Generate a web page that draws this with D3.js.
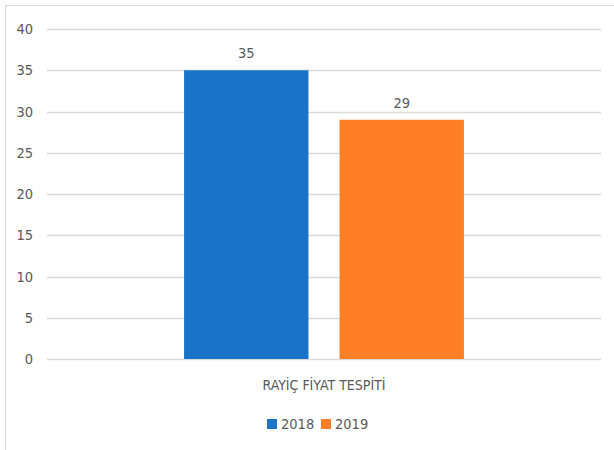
<!DOCTYPE html>
<html>
<head>
<meta charset="utf-8">
<script src="https://cdn.jsdelivr.net/npm/d3@7"></script>
<style>
  body { margin: 0; background: #fff; }
  text { font-family: "DejaVu Sans Condensed", "DejaVu Sans", sans-serif; font-stretch: condensed; fill: #595959; }
</style>
</head>
<body>
<div id="chart"></div>
<script>
const categories = ["RAYİÇ FİYAT TESPİTİ"];
const seriesNames = ["2018", "2019"];
const seriesValues = [35, 29];
const yTicks = [0, 5, 10, 15, 20, 25, 30, 35, 40];
const colors = ["#1873c9", "#fe7f26"];

const W = 614, H = 450;
const margin = { top: 29, right: 13, bottom: 91, left: 47 },
      width = W - margin.left - margin.right,
      height = H - margin.top - margin.bottom;

const root = d3.select("#chart")
  .append("svg")
    .attr("width", W)
    .attr("height", H);

// chart frame
root.append("rect")
  .attr("x", 5.5).attr("y", 5.5)
  .attr("width", W + 10).attr("height", H + 10)
  .attr("fill", "none")
  .attr("stroke", "#d9d9d9");

const svg = root.append("g")
  .attr("transform", `translate(${margin.left},${margin.top})`);

const y = d3.scaleLinear().domain([0, 40]).range([height, 0]);

const x0 = d3.scaleBand().domain(categories).range([0, width]);

const x1 = d3.scaleBand()
  .domain(seriesNames)
  .range([x0.bandwidth() * 0.2474, x0.bandwidth() * 0.7526])
  .paddingInner(0.2);

// gridlines
svg.append("g")
  .selectAll("line")
  .data(yTicks)
  .enter()
  .append("line")
    .attr("x1", 0).attr("x2", width)
    .attr("y1", d => Math.round(y(d)) + 0.5)
    .attr("y2", d => Math.round(y(d)) + 0.5)
    .attr("stroke", "#d9d9d9")
    .attr("stroke-width", 1.3);

// y axis labels
const yAxis = svg.append("g")
  .attr("transform", "translate(-14,0)")
  .call(d3.axisLeft(y).tickValues(yTicks).tickSize(0).tickPadding(0));
yAxis.select(".domain").remove();
yAxis.attr("font-family", null).attr("font-size", null);
yAxis.selectAll("text")
  .style("font-size", "14.5px")
  .attr("fill", "#595959");

// bars
const group = svg.append("g")
  .attr("transform", `translate(${x0(categories[0])},0)`);

group.selectAll("rect")
  .data(seriesValues)
  .enter()
  .append("rect")
    .attr("x", (d, i) => x1(seriesNames[i]))
    .attr("y", d => y(d))
    .attr("width", x1.bandwidth())
    .attr("height", d => height - y(d))
    .attr("fill", (d, i) => colors[i]);

group.selectAll(".val")
  .data(seriesValues)
  .enter()
  .append("text")
    .attr("class", "val")
    .attr("x", (d, i) => x1(seriesNames[i]) + x1.bandwidth() / 2)
    .attr("y", d => y(d) - 12)
    .attr("text-anchor", "middle")
    .style("font-size", "14.5px")
    .text(d => d);

// category label
svg.append("text")
  .attr("x", x0(categories[0]) + x0.bandwidth() / 2)
  .attr("y", height + 31)
  .attr("text-anchor", "middle")
  .style("font-size", "14px")
  .text(categories[0]);

// legend
const legend = root.append("g").attr("transform", "translate(267,419)");
const items = legend.selectAll("g")
  .data(seriesNames)
  .enter()
  .append("g")
    .attr("transform", (d, i) => `translate(${i * 54},0)`);
items.append("rect")
  .attr("width", 10).attr("height", 10)
  .attr("fill", (d, i) => colors[i]);
items.append("text")
  .attr("x", 14).attr("y", 10)
  .style("font-size", "14.5px")
  .text(d => d);
</script>
</body>
</html>
